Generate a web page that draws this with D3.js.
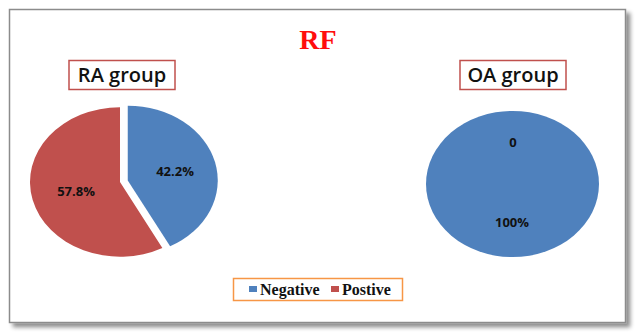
<!DOCTYPE html>
<html>
<head>
<meta charset="utf-8">
<script src="https://cdn.jsdelivr.net/npm/d3@7"></script>
<style>
  html, body { margin: 0; padding: 0; background: #fff; }
</style>
</head>
<body>
<svg id="chart" width="640" height="334"></svg>
<script>
	'use strict';

	// data
	const categories = ['Negative', 'Postive'];
	const raValues = [42.2, 57.8];
	const oaValues = [100, 0];
	const raLabels = ['42.2%', '57.8%'];
	const oaLabels = ['100%', '0'];
	const colors = ['#4f81bd', '#c0504d'];

	const svg = d3.select('#chart');

	// frame with shadow
	const defs = svg.append('defs');
	const f = defs.append('filter').attr('id', 'shadow').attr('x', '-5%').attr('y', '-5%').attr('width', '115%').attr('height', '115%');
	f.append('feGaussianBlur').attr('in', 'SourceAlpha').attr('stdDeviation', 2);
	f.append('feOffset').attr('dx', 4).attr('dy', 4).attr('result', 'b');
	f.append('feComponentTransfer').append('feFuncA').attr('type', 'linear').attr('slope', 0.45);
	const m = f.append('feMerge');
	m.append('feMergeNode');
	m.append('feMergeNode').attr('in', 'SourceGraphic');

	svg.append('rect')
		.attr('x', 9.5).attr('y', 9.5)
		.attr('width', 616).attr('height', 313)
		.attr('fill', '#fff')
		.attr('stroke', '#8c8c8c')
		.attr('stroke-width', 1.5)
		.attr('filter', 'url(#shadow)');

	// title
	svg.append('text')
		.attr('x', 318).attr('y', 49)
		.attr('text-anchor', 'middle')
		.attr('font-family', 'Liberation Serif, serif')
		.attr('font-weight', 'bold')
		.attr('font-size', 28)
		.attr('fill', '#ff0d0d')
		.text('RF');

	function groupTitle(cx, label) {
		svg.append('rect')
			.attr('x', cx - 53).attr('y', 60.5)
			.attr('width', 106).attr('height', 29)
			.attr('fill', '#fff')
			.attr('stroke', '#c0504d')
			.attr('stroke-width', 1.5);
		svg.append('text')
			.attr('x', cx).attr('y', 82)
			.attr('text-anchor', 'middle')
			.attr('font-family', 'Open Sans, sans-serif')
			.attr('font-weight', 600)
			.attr('font-size', 20)
			.attr('fill', '#111')
			.text(label);
	}

	groupTitle(122, 'RA group');
	groupTitle(513, 'OA group');

	const pie = d3.pie().sort(null).value(function(d) { return d; });

	// RA pie
	const raR = 90;
	const raArc = d3.arc().innerRadius(0).outerRadius(raR);
	const raG = svg.append('g').attr('transform', 'translate(120,182) scale(1,0.83)');
	const raArcs = pie(raValues);
	raG.selectAll('path')
		.data(raArcs)
		.enter().append('path')
		.attr('transform', function(d, i) {
			if (i !== 0) return null;
			const a = (d.startAngle + d.endAngle) / 2;
			return 'translate(' + (Math.sin(a) * 8) + ',' + (-Math.cos(a) * 8) + ')';
		})
		.attr('d', raArc)
		.attr('fill', function(d, i) { return colors[i]; });

	const raPos = [[175, 176], [76, 196]];
	svg.selectAll('.ra-label')
		.data(raLabels)
		.enter().append('text')
		.attr('class', 'ra-label')
		.attr('x', function(d, i) { return raPos[i][0]; })
		.attr('y', function(d, i) { return raPos[i][1]; })
		.attr('text-anchor', 'middle')
		.attr('font-family', 'Open Sans, sans-serif')
		.attr('font-weight', 'bold')
		.attr('font-size', 13)
		.attr('fill', '#111')
		.text(function(d) { return d; });

	// OA pie
	const oaR = 86.5;
	const oaArc = d3.arc().innerRadius(0).outerRadius(oaR);
	const oaG = svg.append('g').attr('transform', 'translate(512.5,184) scale(1,0.845)');
	oaG.selectAll('path')
		.data(pie(oaValues))
		.enter().append('path')
		.attr('d', oaArc)
		.attr('fill', function(d, i) { return colors[i]; });

	const oaPos = [[512, 227], [513, 147]];
	svg.selectAll('.oa-label')
		.data(oaLabels)
		.enter().append('text')
		.attr('class', 'oa-label')
		.attr('x', function(d, i) { return oaPos[i][0]; })
		.attr('y', function(d, i) { return oaPos[i][1]; })
		.attr('text-anchor', 'middle')
		.attr('font-family', 'Open Sans, sans-serif')
		.attr('font-weight', 'bold')
		.attr('font-size', 13)
		.attr('fill', '#111')
		.text(function(d) { return d; });

	// legend
	svg.append('rect')
		.attr('x', 233.5).attr('y', 278.5)
		.attr('width', 169).attr('height', 22)
		.attr('fill', '#fff')
		.attr('stroke', '#f79646')
		.attr('stroke-width', 1.5);

	const legendX = [249, 331];
	const lg = svg.selectAll('.legend')
		.data(categories)
		.enter().append('g')
		.attr('class', 'legend')
		.attr('transform', function(d, i) { return 'translate(' + legendX[i] + ',289)'; });
	lg.append('rect')
		.attr('x', 0).attr('y', -3)
		.attr('width', 8).attr('height', 6)
		.attr('fill', function(d, i) { return colors[i]; });
	lg.append('text')
		.attr('x', 11).attr('y', 5.5)
		.attr('font-family', 'Liberation Serif, serif')
		.attr('font-weight', 'bold')
		.attr('font-size', 16)
		.attr('fill', '#111')
		.text(function(d) { return d; });
</script>
</body>
</html>
